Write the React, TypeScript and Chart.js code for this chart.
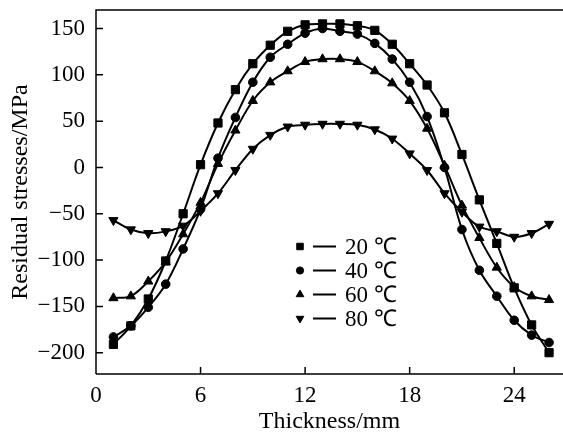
import React, { useEffect, useRef } from 'react';
import { Chart, registerables } from 'chart.js';
import * as helpers from 'chart.js/helpers';

Chart.register(...registerables);

const thickness = [1, 2, 3, 4, 5, 6, 7, 8, 9, 10, 11, 12, 13, 14, 15, 16, 17, 18, 19, 20, 21, 22, 23, 24, 25, 26];
const xTicks = [0, 6, 12, 18, 24];
const yTicks = [-200, -150, -100, -50, 0, 50, 100, 150];
const seriesLabels = ['20 ℃', '40 ℃', '60 ℃', '80 ℃'];

const s20 = [-191, -171, -142, -101, -50, 3, 48, 84, 112, 132, 147, 154, 155, 155, 153, 148, 133, 112, 89, 59, 14, -35, -82, -130, -170, -200];
const s40 = [-183, -171, -151, -126, -88, -45, 10, 54, 92, 119, 133, 145, 150, 147, 144, 134, 117, 92, 55, 0, -67, -111, -139, -165, -181, -189];
const s60 = [-141, -139, -123, -102, -72, -38, 4, 40, 72, 92, 104, 114, 117, 117, 114, 104, 91, 72, 42, 2, -41, -76, -108, -129, -139, -143];
const s80 = [-57, -67, -71, -69, -63, -47, -28, -3, 20, 35, 44, 46, 47, 47, 46, 41, 31, 15, -3, -28, -48, -64, -69, -75, -71, -61];

const FONT = "'Liberation Serif', 'Times New Roman', serif";

const framePlugin = {
  id: 'frame',
  afterDraw(chart: any) {
    const { ctx, chartArea: a, scales } = chart;
    const x = scales.x;
    const y = scales.y;
    ctx.save();
    ctx.strokeStyle = '#000';
    ctx.lineWidth = 1.5;
    ctx.beginPath();
    ctx.moveTo(a.left, a.bottom);
    ctx.lineTo(a.left, a.top);
    ctx.lineTo(a.right, a.top);
    ctx.moveTo(a.left, a.bottom);
    ctx.lineTo(a.right, a.bottom);
    x.ticks.forEach((t: any) => {
      const px = x.getPixelForValue(t.value);
      ctx.moveTo(px, a.bottom);
      ctx.lineTo(px, a.bottom - 7);
    });
    y.ticks.forEach((t: any) => {
      const py = y.getPixelForValue(t.value);
      ctx.moveTo(a.left, py);
      ctx.lineTo(a.left + 7, py);
    });
    ctx.stroke();
    ctx.restore();
  },
};

const legendPlugin = {
  id: 'innerLegend',
  afterDraw(chart: any) {
    const { ctx, chartArea: a } = chart;
    const x0 = a.left + 204;
    const y0 = a.top + 236.5;
    const dy = 24;
    ctx.save();
    chart.data.datasets.forEach((ds: any, i: number) => {
      const cy = y0 + i * dy;
      ctx.fillStyle = '#000';
      ctx.strokeStyle = '#000';
      ctx.lineWidth = 1;
      helpers.drawPoint(
        ctx,
        { pointStyle: ds.pointStyle, rotation: ds.pointRotation || 0, radius: ds.legendRadius, borderWidth: 1 },
        x0,
        cy
      );
      ctx.lineWidth = 2;
      ctx.beginPath();
      ctx.moveTo(x0 + 13, cy);
      ctx.lineTo(x0 + 36, cy);
      ctx.stroke();
      ctx.font = `23px ${FONT}`;
      ctx.textBaseline = 'middle';
      ctx.textAlign = 'left';
      ctx.fillText(ds.label, x0 + 45, cy + 1);
    });
    ctx.restore();
  },
};

function mk(label: string, data: number[], style: string, radius: number, legendRadius: number, rotation = 0) {
  return {
    label,
    data,
    borderColor: '#000',
    backgroundColor: '#000',
    borderWidth: 2,
    pointStyle: style,
    pointRotation: rotation,
    pointRadius: radius,
    pointBorderWidth: 1,
    pointBackgroundColor: '#000',
    pointBorderColor: '#000',
    tension: 0.35,
    clip: false,
    legendRadius,
  };
}

export default function App() {
  const ref = useRef<HTMLCanvasElement | null>(null);

  useEffect(() => {
    document.body.style.margin = '0';
    const canvas = ref.current;
    if (!canvas) return;
    const chart = new Chart(canvas, {
      type: 'line',
      data: {
        labels: thickness,
        datasets: [
          mk(seriesLabels[0], s20, 'rect', 5.8, 4.6),
          mk(seriesLabels[1], s40, 'circle', 4.3, 3.6),
          mk(seriesLabels[2], s60, 'triangle', 5.3, 4.4),
          mk(seriesLabels[3], s80, 'triangle', 5.3, 4.4, 180),
        ] as any,
      },
      options: {
        animation: false,
        responsive: false,
        devicePixelRatio: 1,
        layout: { autoPadding: false, padding: { top: 10, right: 0, left: 0, bottom: 0 } },
        plugins: { legend: { display: false }, tooltip: { enabled: false } },
        scales: {
          x: {
            type: 'linear',
            min: 0,
            max: 26.8,
            grid: { display: false, drawTicks: false },
            border: { display: false },
            afterBuildTicks: (s: any) => {
              s.ticks = xTicks.map((v) => ({ value: v }));
            },
            afterFit: (s: any) => {
              s.height = 62;
              s.paddingLeft = 0;
              s.paddingRight = 0;
            },
            ticks: {
              color: '#000',
              padding: 8,
              maxRotation: 0,
              autoSkip: false,
              font: { family: FONT, size: 23 },
            },
            title: {
              display: true,
              text: 'Thickness/mm',
              color: '#000',
              font: { family: FONT, size: 24 },
              padding: { bottom: 0, top: 0 },
            },
          },
          y: {
            type: 'linear',
            min: -223,
            max: 170,
            grid: { display: false, drawTicks: false },
            border: { display: false },
            afterBuildTicks: (s: any) => {
              s.ticks = yTicks.map((v) => ({ value: v }));
            },
            afterFit: (s: any) => {
              s.width = 96;
              s.paddingTop = 0;
              s.paddingBottom = 0;
            },
            ticks: {
              color: '#000',
              padding: 11,
              autoSkip: false,
              font: { family: FONT, size: 23 },
              callback: (v: any) => (Number(v) < 0 ? '\u2212' + Math.abs(Number(v)) : String(v)),
            },
            title: {
              display: true,
              text: 'Residual stresses/MPa',
              color: '#000',
              font: { family: FONT, size: 24 },
              padding: { top: 6, bottom: 0 },
            },
          },
        },
      },
      plugins: [framePlugin, legendPlugin],
    });
    return () => chart.destroy();
  }, []);

  return (
    <div style={{ width: 563, height: 436 }}>
      <canvas ref={ref} width={563} height={436} style={{ display: 'block', width: 563, height: 436 }} />
    </div>
  );
}
